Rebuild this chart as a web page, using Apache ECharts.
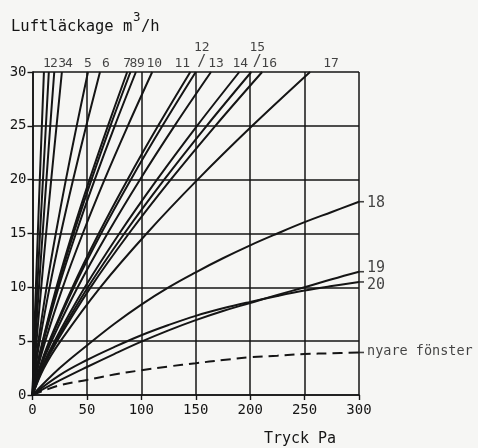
<!DOCTYPE html>
<html>
<head>
<meta charset="utf-8">
<script src="https://cdn.jsdelivr.net/npm/echarts@6/dist/echarts.min.js"></script>
<style>
  html, body { margin: 0; padding: 0; background: #f6f6f4; }
  #chart { width: 478px; height: 448px; }
</style>
</head>
<body>
<div id="chart"></div>
<script>
// Air leakage (m³/h) through windows against pressure difference (Pa).

// Leakage levels (m³/h) at which the steep curves are sampled
const leakLevels = [0, 2.5, 5, 10, 15, 20, 25, 30];

// Pressure (Pa) needed for each window to reach the leakage levels above
const window1  = [0, 0.7, 1.4, 3.1, 4.9, 6.7, 8.6, 10.5];
const window2  = [0, 0.9, 2.1, 4.4, 6.9, 9.6, 12.3, 15];
const window3  = [0, 1.3, 2.7, 5.9, 9.3, 12.8, 16.3, 20];
const window4  = [0, 1.7, 3.7, 8.0, 12.5, 17.2, 22.1, 27];
const window5  = [0, 2.3, 5.4, 12.9, 21.4, 30.7, 40.6, 51];
const window6  = [0, 2.8, 6.6, 15.7, 26.0, 37.3, 49.4, 62];
const window7  = [0, 3.9, 9.3, 22.0, 36.5, 52.4, 69.3, 87];
const window8  = [0, 4.0, 9.6, 22.8, 37.8, 54.2, 71.6, 90];
const window9  = [0, 4.3, 10.1, 24.0, 39.9, 57.2, 75.6, 95];
const window10 = [0, 4.9, 11.7, 27.8, 46.2, 66.2, 87.6, 110];
const window11 = [0, 6.5, 15.4, 36.7, 60.9, 87.3, 115.4, 145];
const window12 = [0, 6.7, 16.0, 38.0, 63.0, 90.3, 119.4, 150];
const window13 = [0, 7.4, 17.5, 41.5, 68.9, 98.7, 130.5, 164];
const window14 = [0, 8.5, 20.2, 48.1, 79.8, 114.4, 151.2, 190];
const window15 = [0, 9.0, 21.4, 50.9, 84.4, 121.0, 160.0, 201];
const window16 = [0, 9.5, 22.5, 53.4, 88.6, 127.0, 168.0, 211];
const window17 = [0, 10.5, 25.7, 62.3, 104.9, 151.7, 201.9, 255];

// Pressure steps (Pa) at which the flatter curves are sampled
const pressureSteps = [0, 25, 50, 75, 100, 125, 150, 175, 200, 225, 250, 275, 300];

// Leakage (m³/h) at the pressure steps above
const window18     = [0, 2.5, 4.6, 6.6, 8.4, 10.0, 11.4, 12.7, 13.9, 15.0, 16.05, 17.0, 17.95];
const window19     = [0, 1.35, 2.6, 3.8, 4.95, 6.0, 6.95, 7.8, 8.55, 9.3, 10.0, 10.75, 11.45];
const window20     = [0, 1.85, 3.25, 4.45, 5.55, 6.5, 7.35, 8.05, 8.65, 9.2, 9.7, 10.12, 10.5];
const newerWindows = [0, 0.9, 1.4, 1.9, 2.3, 2.65, 2.95, 3.25, 3.5, 3.65, 3.8, 3.88, 3.95];

const steepCurves = [window1, window2, window3, window4, window5, window6, window7, window8,
  window9, window10, window11, window12, window13, window14, window15, window16, window17];
const flatCurves = [window18, window19, window20];
const curveNames = ['1', '2', '3', '4', '5', '6', '7', '8', '9', '10', '11', '12', '13',
  '14', '15', '16', '17', '18', '19', '20'];
const newerName = 'nyare fönster';

// Axis ticks
const pressureTicks = [0, 50, 100, 150, 200, 250, 300];
const leakTicks = [0, 5, 10, 15, 20, 25, 30];

// Label nudges [dx, dy] in pixels for each curve tag
const tagNudges = [
  [3, 0], [5, 0], [8, 0], [7, 0], [0, 0], [6, 0], [0, 0], [3, 0], [5, 0], [2, 0],
  [-8, 0], [6, 0], [5, 0], [1, 0], [6, 0], [7, 0], [21, 0],
  [0, 1], [0, -4], [0, 3]
];
const leaderTags = ['12', '15'];

const INK = '#151515';
const MONO = '"DejaVu Sans Mono", "Liberation Mono", monospace';

const series = [];

steepCurves.forEach((p, i) => {
  series.push({
    type: 'line', name: curveNames[i],
    data: p.map((x, k) => [x, leakLevels[k]]),
    smooth: 0.35, showSymbol: false, symbol: 'none',
    lineStyle: { color: INK, width: 2 }, z: 3, silent: true
  });
});
flatCurves.forEach((p, i) => {
  series.push({
    type: 'line', name: curveNames[steepCurves.length + i],
    data: p.map((y, k) => [pressureSteps[k], y]),
    smooth: 0.4, showSymbol: false, symbol: 'none',
    lineStyle: { color: INK, width: 2 }, z: 3, silent: true
  });
});
series.push({
  type: 'line', name: newerName,
  data: newerWindows.map((y, k) => [pressureSteps[k], y]),
  smooth: 0.4, showSymbol: false, symbol: 'none',
  lineStyle: { color: INK, width: 2, type: [10, 6] }, z: 3, silent: true
});

// Tags at the end of every curve
const topTags = steepCurves.map((p, i) => {
  const name = curveNames[i];
  const leader = leaderTags.includes(name);
  return {
    value: [p[p.length - 1], leakLevels[leakLevels.length - 1]],
    name: name,
    label: {
      offset: tagNudges[i],
      formatter: leader ? '{n|' + name + '}\n{s|/}' : name
    }
  };
});
const sideTags = flatCurves.map((p, i) => {
  const idx = steepCurves.length + i;
  return {
    value: [pressureSteps[pressureSteps.length - 1], p[p.length - 1]],
    name: curveNames[idx],
    label: { offset: tagNudges[idx] }
  };
});
sideTags.push({
  value: [pressureSteps[pressureSteps.length - 1], newerWindows[newerWindows.length - 1]],
  name: newerName,
  label: { offset: [0, -1], fontSize: 13.5 }
});

series.push({
  type: 'scatter', data: topTags, symbolSize: 0, silent: true, z: 5,
  label: {
    show: true, position: 'top', distance: 2, color: INK,
    fontFamily: MONO, fontSize: 13,
    rich: {
      n: { fontFamily: MONO, fontSize: 13, color: INK, lineHeight: 15 },
      s: { fontFamily: MONO, fontSize: 15, color: INK, lineHeight: 15 }
    }
  }
});
series.push({
  type: 'scatter', data: sideTags, symbol: 'rect', symbolSize: [6, 1.6], symbolOffset: [2, 0],
  itemStyle: { color: INK }, silent: true, z: 5,
  label: {
    show: true, position: 'right', distance: 3, color: INK,
    fontFamily: MONO, fontSize: 15, formatter: '{b}'
  }
});

const axisCommon = {
  type: 'value',
  axisLine: { show: true, lineStyle: { color: INK, width: 1.6 } },
  axisTick: { show: true, length: 5, lineStyle: { color: INK, width: 1.4 } },
  splitLine: { show: true, lineStyle: { color: INK, width: 1.5 } },
  axisLabel: { color: INK, fontFamily: MONO, fontSize: 14 }
};

const option = {
  backgroundColor: '#f6f6f4',
  animation: false,
  grid: { left: 32.5, right: 119, top: 72, bottom: 53, containLabel: false },
  xAxis: Object.assign({}, axisCommon, {
    min: pressureTicks[0], max: pressureTicks[pressureTicks.length - 1],
    interval: pressureTicks[1] - pressureTicks[0],
    axisLabel: Object.assign({}, axisCommon.axisLabel, { margin: 8 })
  }),
  yAxis: Object.assign({}, axisCommon, {
    min: leakTicks[0], max: leakTicks[leakTicks.length - 1],
    interval: leakTicks[1] - leakTicks[0],
    axisLabel: Object.assign({}, axisCommon.axisLabel, { margin: 6 })
  }),
  graphic: [
    { type: 'text', x: 11, y: 27, style: { text: 'Luftläckage m', font: '15.5px ' + MONO,
      fill: INK, align: 'left', verticalAlign: 'middle', textAlign: 'left', textVerticalAlign: 'middle' } },
    { type: 'text', x: 133, y: 18, style: { text: '3', font: '12.5px ' + MONO,
      fill: INK, align: 'left', verticalAlign: 'middle', textAlign: 'left', textVerticalAlign: 'middle' } },
    { type: 'text', x: 141, y: 27, style: { text: '/h', font: '15.5px ' + MONO,
      fill: INK, align: 'left', verticalAlign: 'middle', textAlign: 'left', textVerticalAlign: 'middle' } },
    { type: 'text', x: 300, y: 439, style: { text: 'Tryck Pa', font: '15px ' + MONO,
      fill: INK, align: 'center', verticalAlign: 'middle', textAlign: 'center', textVerticalAlign: 'middle' } }
  ],
  series: series
};

const chart = echarts.init(document.getElementById('chart'), null, { renderer: 'canvas' });
chart.setOption(option);
</script>
</body>
</html>
